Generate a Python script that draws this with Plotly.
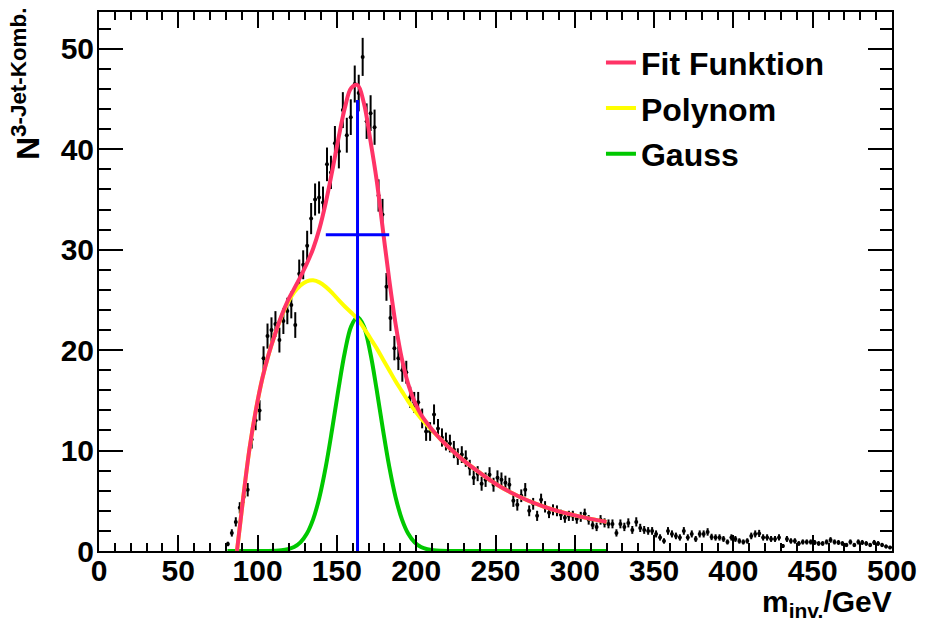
import numpy as np
import plotly.graph_objects as go

# ---------------- data ----------------
BIN_LOW = 80.0      # lower edge of first filled bin (GeV)
BIN_WIDTH = 2.5     # histogram bin width (GeV)
counts = [
    0.7, 1.8, 2.9, 4.3, 5.4, 6.1, 11.1, 13.0, 14.0, 19.2,
    21.4, 22.0, 22.6, 21.0, 22.9, 23.9, 24.5, 22.5, 27.6, 28.5,
    30.4, 33.1, 35.0, 35.2, 34.7, 38.5, 37.7, 40.6, 39.8, 43.9,
    41.4, 43.2, 46.5, 45.6, 49.2, 42.8, 43.6, 42.2, 35.4, 33.5,
    26.3, 23.2, 20.2, 19.2, 18.0, 17.8, 15.3, 14.8, 14.8, 13.2,
    11.9, 11.9, 13.6, 12.2, 11.3, 10.9, 10.7, 10.1, 9.4, 9.6,
    9.2, 8.3, 7.3, 7.7, 6.7, 7.1, 7.6, 6.6, 7.3, 7.1,
    6.8, 6.6, 5.0, 4.6, 5.5, 6.1, 4.0, 4.7, 3.5, 5.1,
    4.4, 3.8, 4.1, 4.0, 3.6, 3.3, 3.5, 3.5, 3.2, 3.4,
    3.7, 3.1, 2.6, 2.4, 3.1, 2.8, 2.7, 2.7, 1.8, 2.7,
    2.4, 2.8, 2.1, 2.9, 2.3, 2.1, 2.0, 2.0, 1.7, 1.35,
    1.0, 2.0, 1.7, 1.5, 1.35, 2.0, 1.35, 1.7, 1.2, 1.7,
    1.7, 1.9, 1.4, 1.35, 1.35, 1.2, 0.9, 1.35, 1.2, 1.0,
    0.9, 1.0, 1.5, 1.7, 1.75, 1.35, 1.35, 1.2, 1.2, 1.35,
    0.5, 1.2, 1.0, 1.0, 0.75, 0.9, 0.9, 0.9, 0.85, 0.75,
    0.75, 0.9, 1.1, 0.9, 0.85, 0.75, 0.6, 0.9, 0.6, 0.9,
    0.85, 0.75, 0.6, 0.85, 0.75, 0.6, 0.45, 0.35,
]
ERR_SCALE = 0.27    # error bar = ERR_SCALE * sqrt(content) (weighted histogram)

# fitted curves
poly_x = [87, 91, 95, 99, 103, 107, 111, 115, 119, 123, 127, 131, 135, 139, 143,
          147, 151, 155, 159, 163, 167, 171, 175, 179, 183, 187, 191, 195, 199, 203,
          207, 211, 215, 220, 230, 240, 250, 260, 270, 280, 290, 300, 310, 320]
poly_y = [0, 5.4, 10.3, 14.1, 17.2, 19.6, 21.6, 23.3, 24.7, 25.75, 26.45, 26.85, 26.95, 26.75, 26.3,
          25.7, 25.0, 24.35, 23.75, 23.1, 22.2, 21.2, 20.2, 19.1, 18.0, 16.9, 15.9, 14.9, 14.0, 13.2,
          12.5, 11.85, 11.2, 10.4, 9.0, 7.8, 6.7, 5.8, 5.05, 4.45, 3.95, 3.55, 3.2, 2.9]

fit_x = poly_x
fit_y = [0, 5.4, 10.3, 14.1, 17.2, 19.6, 21.6, 23.4, 24.9, 26.1, 27.3, 28.6, 30.1, 32.1, 34.7,
         37.8, 41.1, 44.1, 46.1, 46.4, 44.6, 41.0, 37.0, 32.0, 27.0, 22.6, 19.1, 16.6, 14.85, 13.6,
         12.7, 11.9, 11.2, 10.4, 9.0, 7.8, 6.7, 5.8, 5.05, 4.45, 3.95, 3.55, 3.2, 2.9]

gauss_x = [81, 99, 107, 111, 115, 119, 123, 127, 131, 135, 139, 143, 147, 151, 155, 159, 163,
           167, 171, 175, 179, 183, 187, 191, 195, 199, 203, 207, 211, 215, 225, 250, 280, 320]
gauss_y = [0, 0, 0, 0.02, 0.065, 0.17, 0.39, 0.855, 1.71, 3.15, 5.36, 8.40, 12.13, 16.14, 19.79, 22.37, 23.3,
           22.37, 19.79, 16.14, 12.13, 8.40, 5.36, 3.15, 1.71, 0.855, 0.39, 0.17, 0.065, 0.02, 0, 0, 0, 0]

# marker cross (mean position and width)
cross_v_x = [163, 163]
cross_v_y = [0, 44.9]
cross_h_x = [143, 183]
cross_h_y = [31.5, 31.5]

x_ticks = [0, 50, 100, 150, 200, 250, 300, 350, 400, 450, 500]
y_ticks = [0, 10, 20, 30, 40, 50]

# ---------------- figure ----------------
counts_arr = np.array(counts)
centers = BIN_LOW + BIN_WIDTH * (np.arange(len(counts_arr)) + 0.5)
errors = ERR_SCALE * np.sqrt(counts_arr)

FONT = "Liberation Sans"

fig = go.Figure()
fig.add_trace(go.Scatter(
    x=centers, y=counts_arr, mode="markers",
    marker=dict(color="black", size=4),
    error_y=dict(type="data", array=errors, color="black", thickness=2, width=0),
    showlegend=False, hoverinfo="x+y"))

fig.add_trace(go.Scatter(x=gauss_x, y=gauss_y, mode="lines", name="Gauss",
                         line=dict(color="#00c800", width=4, shape="spline"),
                         legendrank=3, legendgroup="g"))
fig.add_trace(go.Scatter(x=poly_x, y=poly_y, mode="lines", name="Polynom",
                         line=dict(color="#ffff00", width=4, shape="spline"),
                         legendrank=2, legendgroup="p"))
fig.add_trace(go.Scatter(x=fit_x, y=fit_y, mode="lines", name="Fit Funktion",
                         line=dict(color="#ff3366", width=4, shape="spline"),
                         legendrank=1, legendgroup="f"))
fig.add_trace(go.Scatter(x=cross_v_x, y=cross_v_y, mode="lines",
                         line=dict(color="#0000ff", width=3), showlegend=False))
fig.add_trace(go.Scatter(x=cross_h_x, y=cross_h_y, mode="lines",
                         line=dict(color="#0000ff", width=3), showlegend=False))

axis_common = dict(
    showline=True, linecolor="black", linewidth=2, mirror="allticks",
    ticks="inside", tickcolor="black", tickwidth=1.5,
    showgrid=False, zeroline=False,
    tickfont=dict(family=FONT, size=30, color="black", weight="bold"),
)

fig.update_layout(
    width=927, height=623,
    margin=dict(l=99, r=31, t=10, b=72),
    paper_bgcolor="white", plot_bgcolor="white",
    xaxis=dict(range=[0, 500], tickvals=x_ticks, ticklen=16, ticklabelstandoff=-8,
               minor=dict(dtick=10, ticklen=8, ticks="inside", tickcolor="black", tickwidth=1.5),
               **axis_common),
    yaxis=dict(range=[0, 53.67], tickvals=y_ticks, ticklen=24, ticklabelstandoff=-3,
               minor=dict(dtick=2, ticklen=12, ticks="inside", tickcolor="black", tickwidth=1.5),
               **axis_common),
    legend=dict(x=0.633, y=0.957, xanchor="left", yanchor="top",
                font=dict(family=FONT, size=32, color="black", weight="bold"),
                bgcolor="rgba(0,0,0,0)", traceorder="grouped", tracegroupgap=1,
                itemwidth=30),
    annotations=[
        dict(text="m<sub>inv.</sub>/GeV", xref="paper", yref="paper",
             x=1.002, y=-0.098, xanchor="right", yanchor="middle", showarrow=False,
             font=dict(family=FONT, size=30, color="black", weight="bold")),
        dict(text="N<sup>3-Jet-Komb.</sup>", xref="paper", yref="paper",
             x=-0.092, y=1.012, xanchor="center", yanchor="top", showarrow=False,
             textangle=-90,
             font=dict(family=FONT, size=32, color="black", weight="bold")),
    ],
)

fig.write_html("out.html")
